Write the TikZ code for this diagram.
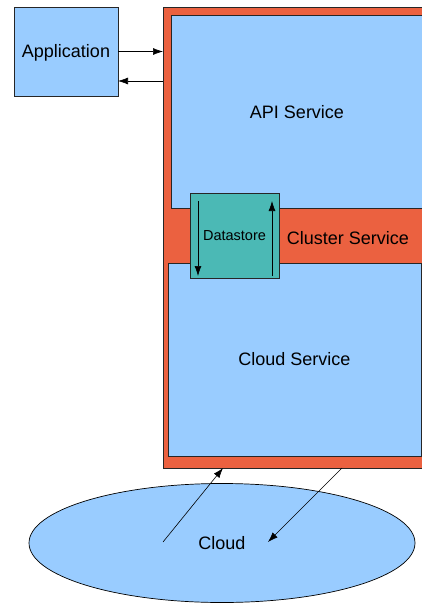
\documentclass[tikz,border=0pt]{standalone}
\usepackage{fontspec}
\setmainfont{Liberation Sans}
\usetikzlibrary{arrows.meta,calc,shapes.geometric}
\definecolor{lblue}{HTML}{99CCFF}
\definecolor{corange}{HTML}{EB6140}
\definecolor{cteal}{HTML}{4BB9B5}
\tikzset{
  box/.style={draw=black!85, line width=0.8pt, inner sep=0pt, outer sep=0pt, anchor=north west},
  bigtext/.style={font=\fontsize{18}{21}\selectfont, inner sep=0pt},
  smalltext/.style={font=\fontsize{14.5}{17}\selectfont, inner sep=0pt},
  conn/.style={line width=0.6pt, -{Latex[length=10pt,width=7pt]}}
}
\begin{document}
\begin{tikzpicture}[x=1pt,y=-1pt]
\useasboundingbox (0,0) rectangle (422,604);
\clip (0,0) rectangle (422,604);
% cluster (orange)
\node[box, fill=corange, minimum width=310pt, minimum height=461pt] (cluster) at (163,7) {};
\node[bigtext] (clusterlabel) at (348,238) {Cluster Service};
% API service
\node[box, fill=lblue, minimum width=300pt, minimum height=193pt] (api) at (171,15) {};
\node[bigtext] (apilabel) at (297,112) {API Service};
% Cloud service
\node[box, fill=lblue, minimum width=253pt, minimum height=193pt] (cloudsvc) at (168,263) {};
\node[bigtext] (cloudsvclabel) at (cloudsvc.center) {Cloud Service};
% Datastore
\node[box, fill=cteal, minimum width=89pt, minimum height=85pt] (ds) at (190,193) {};
\node[smalltext] (dslabel) at (ds.center) {Datastore};
% Application
\node[box, fill=lblue, minimum width=104pt, minimum height=89pt] (app) at (14,7) {};
\node[bigtext] (applabel) at ($(app.center)+(0,1)$) {Application};
% Cloud ellipse
\node[ellipse, draw=black, line width=0.7pt, fill=lblue, minimum width=386pt, minimum height=119pt, inner sep=0pt] (cloud) at (222,543) {};
\node[bigtext] (cloudlabel) at (cloud.center) {Cloud};
% connectors
\draw[conn] (app.east) -- (cluster.west |- app.east);
\draw[conn] (cluster.west |- {$(app.south east)+(0,-15)$}) -- ($(app.south east)+(0,-15)$);
\draw[conn] ($(ds.north west)+(8,8)$) -- ($(ds.south west)+(8,-2)$);
\draw[conn] ($(ds.south east)+(-7,-2)$) -- ($(ds.north east)+(-7,8)$);
\draw[conn] ($(cloud.center)+(-59,-1)$) -- ($(cluster.south west)+(60,0)$);
\draw[conn] ($(cluster.south west)+(179,0)$) -- ($(cloud.center)+(46,-1)$);
\end{tikzpicture}
\end{document}
